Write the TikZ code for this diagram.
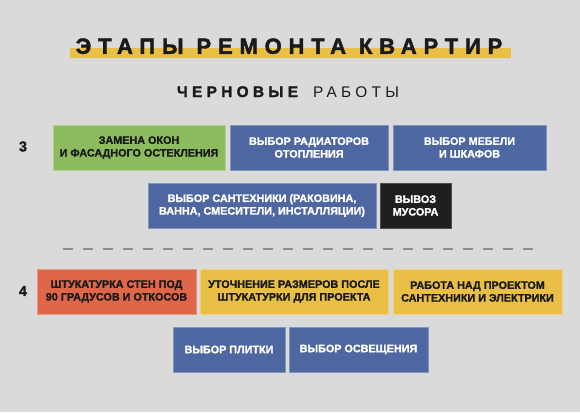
\documentclass[tikz,border=0pt]{standalone}
\usepackage{fontspec}
\setmainfont{Liberation Sans}[BoldFeatures={FakeBold=1.5}]
\newfontfamily\titlefont{Liberation Sans}[LetterSpace=31,BoldFeatures={FakeBold=2}]
\newfontfamily\subfont{Liberation Sans}[LetterSpace=28,BoldFeatures={FakeBold=1.8}]
\definecolor{bg}{HTML}{DADADA}
\definecolor{cgreen}{HTML}{8DBC5E}
\definecolor{cblue}{HTML}{4F67A1}
\definecolor{cblack}{HTML}{1F1F1F}
\definecolor{corange}{HTML}{E0664A}
\definecolor{cyellow}{HTML}{E9BF45}
\definecolor{ctext}{HTML}{1A1A1A}
\definecolor{cdash}{HTML}{8C8C8C}
\tikzset{
  box/.style={rectangle, inner sep=0pt, minimum height=45pt, align=center,
    font=\fontsize{10.8}{12.7}\selectfont\bfseries, line width=0.8pt},
  gbox/.style={box, fill=cgreen, draw=cgreen!70!white, text=ctext},
  bbox/.style={box, fill=cblue, draw=cblue!70!white, text=white},
  kbox/.style={box, fill=cblack, draw=cblack!80!white, text=white},
  obox/.style={box, fill=corange, draw=corange!70!white, text=ctext},
  ybox/.style={box, fill=cyellow, draw=cyellow!70!white, text=ctext},
  num/.style={font=\fontsize{14.5}{16}\selectfont\bfseries, text=ctext, inner sep=0pt},
}
\begin{document}
\begin{tikzpicture}[x=1pt,y=-1pt]
\fill[bg] (0,0) rectangle (580,412);
\useasboundingbox (0,0) rectangle (580,412);
% title
\fill[cyellow] (70,48.3) rectangle (510.5,58);
\node[anchor=base, inner sep=0pt, text=ctext] (title) at (289,53.8)
  {\titlefont\fontsize{22}{24}\selectfont\bfseries ЭТАПЫ РЕМОНТА КВАРТИР};
\node[anchor=base, inner sep=0pt, text=ctext] (sub) at (288,97)
  {\fontsize{15.4}{18}\selectfont\subfont{\bfseries ЧЕРНОВЫЕ}\hspace{15pt}РАБОТЫ};
% stage 3
\node[num] (n3) at (23,146.5) {3};
\node[gbox, minimum width=172pt] (g1) at (139,147.5) {ЗАМЕНА ОКОН\\И ФАСАДНОГО ОСТЕКЛЕНИЯ};
\node[bbox, minimum width=158pt] (b1) at (309,147.5) {ВЫБОР РАДИАТОРОВ\\ОТОПЛЕНИЯ};
\node[bbox, minimum width=153pt] (b2) at (469.5,147.5) {ВЫБОР МЕБЕЛИ\\И ШКАФОВ};
\node[bbox, minimum width=228pt] (b3) at (262,205.5) {ВЫБОР САНТЕХНИКИ (РАКОВИНА,\\ВАННА, СМЕСИТЕЛИ, ИНСТАЛЛЯЦИИ)};
\node[kbox, minimum width=71pt] (k1) at (415.5,205.5) {ВЫВОЗ\\МУСОРА};
% separator
\coordinate (d1) at (63,249);
\coordinate (d2) at (533,249);
\draw[cdash, line width=2pt, dash pattern=on 10pt off 10pt] (d1) -- (d2);
% stage 4
\node[num] (n4) at (23,291) {4};
\node[obox, minimum width=159pt] (o1) at (116.5,291.5) {ШТУКАТУРКА СТЕН ПОД\\90 ГРАДУСОВ И ОТКОСОВ};
\node[ybox, minimum width=188pt] (y1) at (294,291.5) {УТОЧНЕНИЕ РАЗМЕРОВ ПОСЛЕ\\ШТУКАТУРКИ ДЛЯ ПРОЕКТА};
\node[ybox, minimum width=169pt] (y2) at (477.5,291.5) {РАБОТА НАД ПРОЕКТОМ\\САНТЕХНИКИ И ЭЛЕКТРИКИ};
\node[bbox, minimum width=112pt] (b4) at (229,349.5) {ВЫБОР ПЛИТКИ};
\node[bbox, minimum width=139pt] (b5) at (358.5,349.5) {ВЫБОР ОСВЕЩЕНИЯ};
\end{tikzpicture}
\end{document}
